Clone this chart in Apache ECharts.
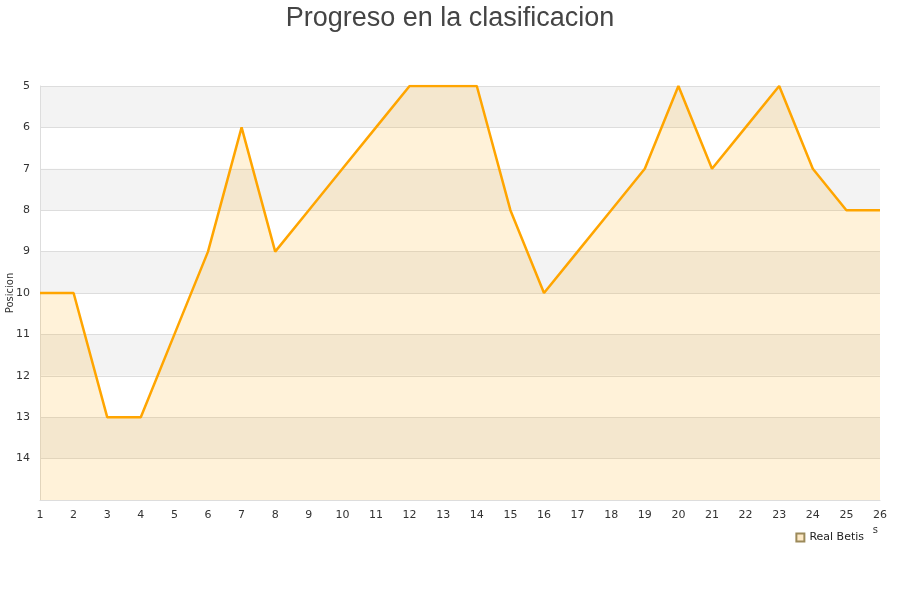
<!DOCTYPE html>
<html><head><meta charset="utf-8">
<script src="https://cdn.jsdelivr.net/npm/echarts@6/dist/echarts.min.js"></script>
<style>html,body{margin:0;padding:0;background:#fff}#c{width:900px;height:600px}</style>
</head><body><div id="c"></div>
<script>
const jornadas = ['1','2','3','4','5','6','7','8','9','10','11','12','13','14','15','16','17','18','19','20','21','22','23','24','25','26'];
const posiciones = [10,10,13,13,11,9,6,9,8,7,6,5,5,5,8,10,9,8,7,5,7,6,5,7,8,8];
const seriesName = 'Real Betis';
const chart = echarts.init(document.getElementById('c'));
chart.setOption({
  animation: false,
  backgroundColor: '#fff',
  title: {
    text: 'Progreso en la clasificacion', left: 'center', top: 0,
    textStyle: {fontFamily: 'Liberation Sans', fontSize: 27, fontWeight: 'normal', color: '#444'}
  },
  legend: {
    data: [{name: seriesName, icon: 'rect'}],
    right: 28, top: 525, itemWidth: 8, itemHeight: 8, itemGap: 8,
    backgroundColor: '#fff', padding: [7, 8, 5, 3], z: 10,
    textStyle: {fontFamily: 'DejaVu Sans', fontSize: 11, color: '#222'}
  },
  grid: {left: 40, right: 20, top: 86, bottom: 100, show: false, containLabel: false, outerBoundsMode: 'none'},
  xAxis: {
    type: 'category', data: jornadas, boundaryGap: false,
    name: 'Jornadas', nameLocation: 'end', nameGap: -2, nameMoveOverlap: false,
    nameTextStyle: {fontFamily: 'DejaVu Sans', fontSize: 10, color: '#333', align: 'right', verticalAlign: 'top', padding: [25, 0, 0, 0]},
    axisLine: {show: true, lineStyle: {color: '#ddd'}},
    axisTick: {show: false},
    axisLabel: {fontFamily: 'DejaVu Sans', fontSize: 11, color: '#333', margin: 10},
    splitLine: {show: false}
  },
  yAxis: {
    type: 'value', inverse: true, min: 5, max: 15, interval: 1,
    name: 'Posicion', nameLocation: 'middle', nameGap: 25, nameMoveOverlap: false,
    nameTextStyle: {fontFamily: 'DejaVu Sans', fontSize: 10, color: '#333'},
    axisLine: {show: true, lineStyle: {color: '#ddd'}},
    axisTick: {show: false},
    axisLabel: {fontFamily: 'DejaVu Sans', fontSize: 11, color: '#333', margin: 10,
      formatter: v => v === 15 ? '' : v},
    splitLine: {show: true, lineStyle: {color: '#ddd'}},
    splitArea: {show: true, areaStyle: {color: ['#f3f3f3', '#ffffff']}}
  },
  series: [{
    name: seriesName, type: 'line', data: posiciones,
    symbol: 'none', smooth: false,
    lineStyle: {color: '#ffa500', width: 2.5},
    itemStyle: {color: '#fde9c6', borderColor: '#9c8a5a', borderWidth: 1},
    areaStyle: {color: 'rgba(255,165,0,0.21)', origin: 'end'}
  }]
});
</script></body></html>
